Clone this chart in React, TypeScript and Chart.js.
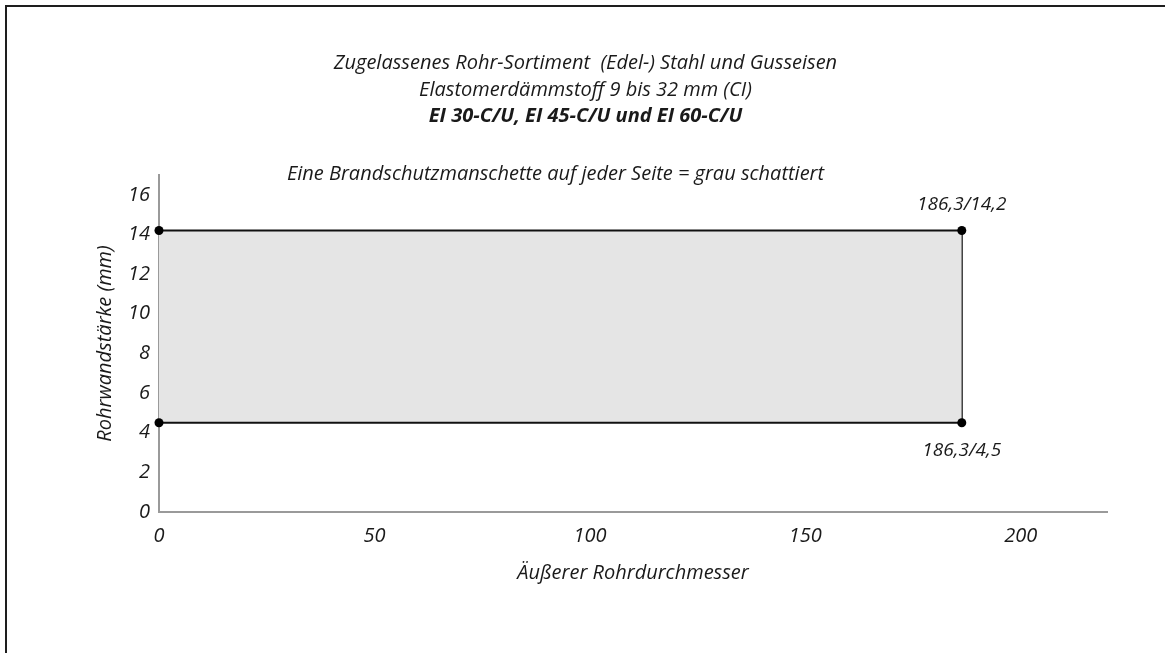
import React, { useEffect, useRef } from 'react';
import { Chart, registerables } from 'chart.js';

Chart.register(...registerables);

// ---- data ----
const cornerX = [0, 186.3, 186.3, 0];
const cornerY = [14.2, 14.2, 4.5, 4.5];
const cornerLabels = ['', '186,3/14,2', '186,3/4,5', ''];
const xTickValues = [0, 50, 100, 150, 200];
const yTickValues = [0, 2, 4, 6, 8, 10, 12, 14, 16];
const xAxisMax = 220;
const yAxisMax = 17;
const titleLines = [
  'Zugelassenes Rohr-Sortiment  (Edel-) Stahl und Gusseisen',
  'Elastomerdämmstoff 9 bis 32 mm (CI)',
];
const boldTitle = 'EI 30-C/U, EI 45-C/U und EI 60-C/U';
const noteLine = 'Eine Brandschutzmanschette auf jeder Seite = grau schattiert';
const xAxisTitle = 'Äußerer Rohrdurchmesser';
const yAxisTitle = 'Rohrwandstärke (mm)';

const FONT = '"Open Sans"';
const TEXT = '#1a1a1a';
const AXIS = '#9a9a9a';

const textPlugin = {
  id: 'textPlugin',
  afterDraw(chart: any) {
    const ctx = chart.ctx;
    const cx = chart.width / 2;
    ctx.save();
    ctx.fillStyle = TEXT;
    ctx.textAlign = 'center';
    ctx.textBaseline = 'middle';
    ctx.font = `italic 20px ${FONT}`;
    ctx.fillText(titleLines[0], cx + 3, 63);
    ctx.fillText(titleLines[1], cx + 3, 90);
    ctx.font = `italic bold 20px ${FONT}`;
    ctx.fillText(boldTitle, cx + 3, 116);
    ctx.font = `italic 20px ${FONT}`;
    ctx.fillText(noteLine, cx - 27, 174);

    // corner labels
    ctx.font = `italic 19px ${FONT}`;
    const xs = chart.scales.x;
    const ys = chart.scales.y;
    const midY = (Math.max(...cornerY) + Math.min(...cornerY)) / 2;
    cornerLabels.forEach((lab, i) => {
      if (!lab) return;
      const px = xs.getPixelForValue(cornerX[i]);
      const py = ys.getPixelForValue(cornerY[i]);
      const above = cornerY[i] > midY;
      ctx.fillText(lab, px, above ? py - 26 : py + 28);
    });
    ctx.restore();
  },
};

export default function App() {
  const ref = useRef<HTMLCanvasElement>(null);
  useEffect(() => {
    if (!ref.current) return;
    const pt = (i: number) => ({ x: cornerX[i], y: cornerY[i] });
    const chart = new Chart(ref.current, {
      type: 'line',
      data: {
        datasets: [
          {
            data: [pt(0), pt(1)],
            borderColor: '#111',
            borderWidth: 2,
            pointRadius: 4.5,
            pointBackgroundColor: '#000',
            pointBorderWidth: 0,
            fill: false,
            clip: false,
          } as any,
          {
            data: [pt(3), pt(2)],
            borderColor: '#111',
            borderWidth: 2,
            pointRadius: 4.5,
            pointBackgroundColor: '#000',
            pointBorderWidth: 0,
            backgroundColor: '#e5e5e5',
            fill: '-1',
            clip: false,
          } as any,
          {
            data: [pt(1), pt(2)],
            borderColor: '#111',
            borderWidth: 2,
            pointRadius: 0,
            fill: false,
            clip: false,
          } as any,
        ],
      },
      options: {
        animation: false,
        responsive: false,
        layout: { padding: { left: 89, top: 175, right: 58, bottom: 64 } },
        plugins: {
          legend: { display: false },
          tooltip: { enabled: false },
          title: { display: false },
        },
        scales: {
          x: {
            type: 'linear',
            min: 0,
            max: xAxisMax,
            grid: { display: false, drawTicks: false },
            border: { display: true, color: AXIS, width: 2 },
            afterBuildTicks: (s: any) => {
              s.ticks = xTickValues.map((v) => ({ value: v }));
            },
            afterFit: (s: any) => {
              s.height = 77;
            },
            ticks: {
              includeBounds: false,
              padding: 12,
              color: TEXT,
              font: { family: FONT, size: 20, style: 'italic' },
              maxRotation: 0,
            },
            title: {
              display: true,
              text: xAxisTitle,
              color: TEXT,
              font: { family: FONT, size: 20, style: 'italic' },
              padding: { top: 4, bottom: 4 },
            },
          },
          y: {
            type: 'linear',
            min: 0,
            max: yAxisMax,
            grid: { display: false, drawTicks: false },
            border: { display: true, color: AXIS, width: 2 },
            afterBuildTicks: (s: any) => {
              s.ticks = yTickValues.map((v) => ({ value: v }));
            },
            afterFit: (s: any) => {
              s.width = 70;
            },
            ticks: {
              includeBounds: false,
              padding: 9,
              color: TEXT,
              font: { family: FONT, size: 20, style: 'italic' },
            },
            title: {
              display: true,
              text: yAxisTitle,
              color: TEXT,
              font: { family: FONT, size: 20, style: 'italic' },
              padding: { top: 4, bottom: 4 },
            },
          },
        },
      } as any,
      plugins: [textPlugin],
    });
    return () => chart.destroy();
  }, []);

  return (
    <div style={{ position: 'fixed', left: 0, top: 0, width: 1165, height: 653, background: '#fff', overflow: 'hidden' }}>
      <div
        style={{
          position: 'absolute',
          left: 5,
          top: 5,
          width: 1300,
          height: 800,
          borderTop: '2px solid #1e1e1e',
          borderLeft: '2px solid #1e1e1e',
        }}
      />
      <canvas ref={ref} width={1165} height={653} style={{ position: 'absolute', left: 0, top: 0, width: 1165, height: 653 }} />
    </div>
  );
}
